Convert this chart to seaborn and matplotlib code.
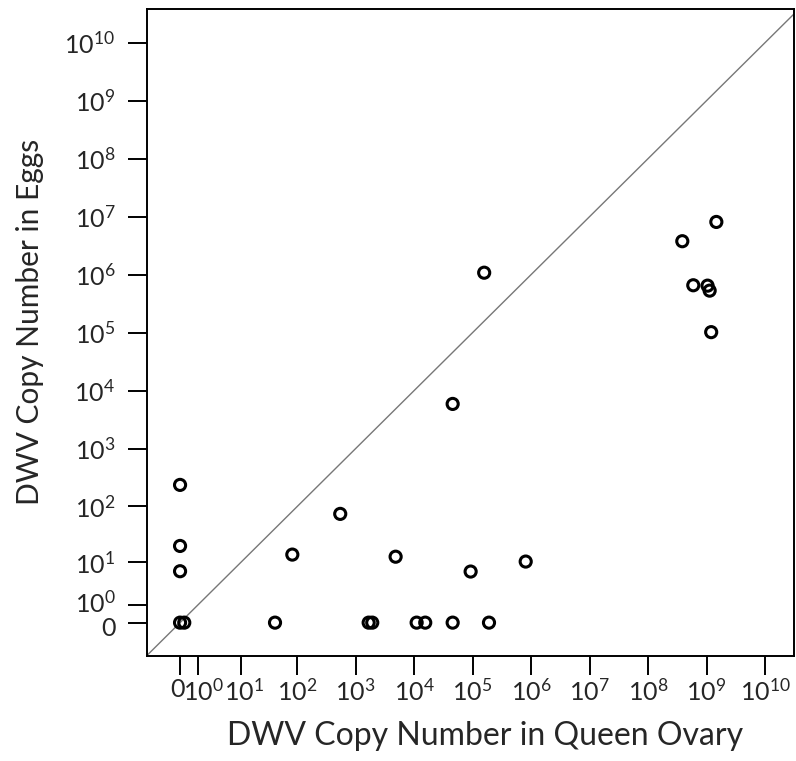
import numpy as np
import pandas as pd
import matplotlib
matplotlib.use("Agg")
import matplotlib.pyplot as plt
import matplotlib.transforms as mtransforms
import seaborn as sns

# Data (raw copy numbers)
ovary = [0, 0.18, 0, 0, 0,
         41, 82, 546, 1674, 1928, 4840, 11070, 15530, 45700, 191000,
         92700, 810000, 45700, 158000,
         1.47e9, 3.85e8, 5.93e8, 1.04e9, 1.13e9, 1.2e9]
eggs = [236, 0, 20, 6.7, 0,
        0, 13.9, 74, 0, 0, 12.7, 0, 0, 0, 0,
        6.6, 10.3, 5900, 1.08e6,
        8.1e6, 3.77e6, 6.56e5, 6.46e5, 5.3e5, 1.02e5]

tick_values = [0] + [10 ** k for k in range(0, 11)]
tick_labels = ["0"] + [r"$\mathregular{10^{%d}}$" % k for k in range(0, 11)]

sns.set_style("white")
plt.rcParams["font.family"] = ["Lato", "DejaVu Sans"]
plt.rcParams["mathtext.fontset"] = "custom"
plt.rcParams["mathtext.rm"] = "Lato"
plt.rcParams["mathtext.it"] = "Lato"

df = pd.DataFrame({"ovary": ovary, "eggs": eggs})
df["lx"] = np.log10(df["ovary"] + 1)
df["ly"] = np.log10(df["eggs"] + 1)

fig = plt.figure(figsize=(7.96, 7.61), dpi=100)
ax = fig.add_axes([147.3 / 796, 1 - 655.7 / 761, (794.3 - 147.3) / 796, (655.7 - 9) / 761])

ax.plot([-1, 11], [-1, 11], color="#777777", lw=1.0, zorder=1)
sns.scatterplot(data=df, x="lx", y="ly", ax=ax, s=64, marker="o",
                facecolor="none", edgecolor="black", linewidth=2.2, zorder=3)

ax.set_xlim(-0.56, 10.5)
ax.set_ylim(-0.57, 10.58)

tpos = np.log10(np.array(tick_values, dtype=float) + 1)
ax.set_xticks(tpos)
ax.set_xticklabels(tick_labels, fontsize=18)
ax.set_yticks(tpos)
ax.set_yticklabels(tick_labels, fontsize=18)
ax.tick_params(axis="both", direction="out", length=14, width=1.4, color="black",
               bottom=True, left=True)
ax.tick_params(axis="x", pad=2)
ax.tick_params(axis="y", pad=9)
for sp in ax.spines.values():
    sp.set_color("black")
    sp.set_linewidth(1.4)
ax.set_xlabel("")
ax.set_ylabel("")

# nudge the crowded labels near zero apart, as in the reference
def nudge(lab, dx, dy):
    lab.set_transform(lab.get_transform() +
                      mtransforms.ScaledTranslation(dx / 100, dy / 100, fig.dpi_scale_trans))

xl = ax.get_xticklabels()
nudge(xl[0], -3, 0)
nudge(xl[1], 6, 0)
nudge(xl[2], 3, 0)
yl = ax.get_yticklabels()
nudge(yl[0], 0, -4)
nudge(yl[1], 0, 4)

fig.text(485 / 796, 1 - 736 / 761, "DWV Copy Number in Queen Ovary",
         ha="center", va="center", fontsize=23)
fig.text(30 / 796, 1 - 322 / 761, "DWV Copy Number in Eggs",
         ha="center", va="center", rotation=90, fontsize=21.5)

fig.savefig("out.png", dpi=100)
